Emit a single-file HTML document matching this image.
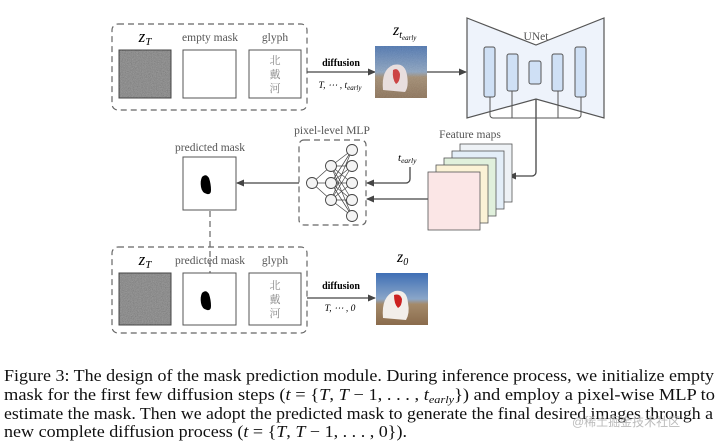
<!DOCTYPE html>
<html><head><meta charset="utf-8"><style>
body{margin:0;background:#fff;width:720px;height:446px;overflow:hidden;position:relative}
svg{position:absolute;left:0;top:0}
.wm{position:absolute;left:572px;top:413px;font:12px "Liberation Sans","Noto Sans CJK SC",sans-serif;color:#bbb}
</style></head><body>
<svg width="720" height="446" viewBox="0 0 720 446" font-family="Liberation Serif, serif">
<defs>
<filter id="n" x="0" y="0" width="1" height="1"><feTurbulence type="fractalNoise" baseFrequency="1.2" numOctaves="1" seed="3"/><feColorMatrix type="matrix" values="0.33 0.33 0.33 0 0 0.33 0.33 0.33 0 0 0.33 0.33 0.33 0 0 0 0 0 0 1"/><feComponentTransfer><feFuncR type="linear" slope="0.8" intercept="0"/><feFuncG type="linear" slope="0.8" intercept="0"/><feFuncB type="linear" slope="0.8" intercept="0"/></feComponentTransfer></filter>
<marker id="a" markerWidth="8" markerHeight="8" refX="7" refY="4" orient="auto" markerUnits="userSpaceOnUse"><path d="M0,0.5 L8,4 L0,7.5z" fill="#444"/></marker>
<linearGradient id="sky" x1="0" y1="0" x2="0" y2="1"><stop offset="0" stop-color="#3f6fb5"/><stop offset="0.5" stop-color="#8aa6c8"/><stop offset="0.6" stop-color="#a48a6a"/><stop offset="1" stop-color="#8a6b4c"/></linearGradient>
</defs>
<g fill="none" stroke="#666" stroke-dasharray="6,4" stroke-width="1.2">
<rect x="112" y="24" width="195" height="86" rx="6"/>
<rect x="112" y="247" width="195" height="86" rx="6"/>
<rect x="299" y="140" width="67" height="85" rx="5"/>
<line x1="210" y1="211" x2="210" y2="290"/>
</g>
<rect x="119" y="50" width="52" height="48" fill="#666"/>
<rect x="119" y="50" width="52" height="48" filter="url(#n)" opacity="0.6"/>
<rect x="119" y="50" width="52" height="48" fill="none" stroke="#444"/>
<rect x="183" y="50" width="53" height="48" fill="#fff" stroke="#555"/>
<rect x="249" y="50" width="52" height="48" fill="#fff" stroke="#555"/>
<g font-family="Liberation Sans, Noto Serif CJK SC, serif" font-size="11" fill="#888" text-anchor="middle"><text x="275" y="64">北</text><text x="275" y="78">戴</text><text x="275" y="92">河</text></g>
<g font-size="11.5" fill="#555" text-anchor="middle"><text x="210" y="41">empty mask</text><text x="275" y="41">glyph</text>
<text x="210" y="264">predicted mask</text><text x="275" y="264">glyph</text>
<text x="210" y="151">predicted mask</text><text x="332" y="134">pixel-level MLP</text><text x="470" y="138">Feature maps</text><text x="536" y="40">UNet</text></g>
<text x="145" y="42" font-size="17" font-style="italic" text-anchor="middle">z<tspan font-size="11" dy="3">T</tspan></text>
<text x="145" y="265" font-size="17" font-style="italic" text-anchor="middle">z<tspan font-size="11" dy="3">T</tspan></text>
<text x="393" y="35" font-size="16" font-style="italic">z<tspan font-size="10" dy="3">t</tspan><tspan font-size="7" dy="2">early</tspan></text>
<text x="397" y="262" font-size="16" font-style="italic">z<tspan font-size="10" dy="3">0</tspan></text>
<g font-size="10" text-anchor="middle"><text x="341" y="66" font-weight="bold">diffusion</text><text x="341" y="289" font-weight="bold">diffusion</text>
<text x="340" y="88" font-style="italic" font-size="9.5">T, ⋯ , t<tspan font-size="7" dy="2">early</tspan></text>
<text x="340" y="311" font-style="italic" font-size="9.5">T, ⋯ , 0</text></g>
<g stroke="#444" stroke-width="1.3" fill="none" marker-end="url(#a)">
<line x1="307" y1="72" x2="375" y2="72"/><line x1="427" y1="72" x2="466" y2="72"/>
<line x1="307" y1="298" x2="375" y2="298"/>
<path d="M536,84 V172 a4,4 0 0 1 -4,4 H509"/>
<line x1="428" y1="199" x2="367" y2="199"/>
<path d="M410,167 V179 a4,4 0 0 1 -4,4 H367"/>
<line x1="299" y1="183" x2="237" y2="183"/>
</g>
<rect x="375" y="46" width="52" height="52" fill="url(#sky)"/>
<rect x="375" y="46" width="52" height="52" filter="url(#n)" opacity="0.25"/>
<path d="M383,90 q-2,-20 10,-25 q12,-3 14,10 q2,12 -2,17z" fill="#e8dede"/><path d="M393,70 q5,-3 7,4 q0,8 -4,10 q-4,-5 -3,-14z" fill="#c44"/>
<rect x="376" y="273" width="52" height="52" fill="url(#sky)"/>
<path d="M383,318 q-2,-22 12,-27 q12,-2 13,12 q2,10 -2,17z" fill="#f2eeea"/><path d="M394,295 q6,-2 8,4 q0,7 -4,9 q-4,-4 -4,-13z" fill="#c22"/>
<rect x="119" y="273" width="52" height="52" fill="#666"/>
<rect x="119" y="273" width="52" height="52" filter="url(#n)" opacity="0.6"/>
<rect x="119" y="273" width="52" height="52" fill="none" stroke="#444"/>
<rect x="183" y="273" width="53" height="52" fill="#fff" stroke="#555"/>
<rect x="249" y="273" width="52" height="52" fill="#fff" stroke="#555"/>
<g font-family="Liberation Sans, Noto Serif CJK SC, serif" font-size="11" fill="#888" text-anchor="middle"><text x="275" y="289">北</text><text x="275" y="303">戴</text><text x="275" y="317">河</text></g>
<path d="M202,293 q4,-4 7,1 q2,6 2,12 q0,5 -4,4 q-5,-1 -6,-7 q-1,-6 1,-10z" fill="#000"/>
<rect x="183" y="157" width="53" height="53" fill="#fff" stroke="#555"/>
<path d="M202,177 q4,-4 7,1 q2,6 2,12 q0,5 -4,4 q-5,-1 -6,-7 q-1,-6 1,-10z" fill="#000"/>
<path d="M467,18 L536,45 L604,18 V118 L536,99 L467,118z" fill="#eef3fb" stroke="#555" stroke-width="1.2"/>
<g fill="#cfe0f5" stroke="#555"><rect x="484" y="47" width="11" height="50" rx="2"/><rect x="507" y="54" width="11" height="37" rx="2"/><rect x="529" y="61" width="12" height="23" rx="2"/><rect x="552" y="54" width="11" height="37" rx="2"/><rect x="575" y="47" width="11" height="50" rx="2"/></g>
<g fill="none" stroke="#555"><path d="M490,97 V115 a3,3 0 0 0 3,3 H578 a3,3 0 0 0 3,-3 V97"/><path d="M512,91 V118 M558,91 V118"/></g>
<g stroke="#555" stroke-width="0.8"><rect x="460" y="144" width="52" height="58" fill="#eef2f6"/><rect x="452" y="151" width="52" height="58" fill="#e3eef8"/><rect x="444" y="158" width="52" height="58" fill="#e0f0dc"/><rect x="436" y="165" width="52" height="58" fill="#fbf2d6"/><rect x="428" y="172" width="52" height="58" fill="#fbe6e6"/></g>
<text x="398" y="161" font-size="11" font-style="italic">t<tspan font-size="7.5" dy="2">early</tspan></text>
<g stroke="#444" stroke-width="0.7">
<path d="M312,183 L331,166 M312,183 L331,183 M312,183 L331,200"/>
<path d="M331,166 L352,150 M331,166 L352,166 M331,166 L352,183 M331,166 L352,200 M331,166 L352,216 M331,183 L352,150 M331,183 L352,166 M331,183 L352,183 M331,183 L352,200 M331,183 L352,216 M331,200 L352,150 M331,200 L352,166 M331,200 L352,183 M331,200 L352,200 M331,200 L352,216"/>
</g>
<g fill="#f4f4f4" stroke="#444" stroke-width="0.9"><circle cx="312" cy="183" r="5.5"/><circle cx="331" cy="166" r="5.5"/><circle cx="331" cy="183" r="5.5"/><circle cx="331" cy="200" r="5.5"/><circle cx="352" cy="150" r="5.5"/><circle cx="352" cy="166" r="5.5"/><circle cx="352" cy="183" r="5.5"/><circle cx="352" cy="200" r="5.5"/><circle cx="352" cy="216" r="5.5"/></g>
<g font-size="16.5" fill="#111">
<text x="4" y="381" textLength="710" lengthAdjust="spacingAndGlyphs">Figure 3: The design of the mask prediction module. During inference process, we initialize empty</text>
<text x="4" y="400" textLength="711" lengthAdjust="spacingAndGlyphs">mask for the first few diffusion steps (<tspan font-style="italic">t</tspan> = {<tspan font-style="italic">T</tspan>, <tspan font-style="italic">T</tspan> − 1, . . . , <tspan font-style="italic">t</tspan><tspan font-size="11" font-style="italic" dy="3">early</tspan><tspan dy="-3">}) and employ a pixel-wise MLP to</tspan></text>
<text x="4" y="419" textLength="709" lengthAdjust="spacingAndGlyphs">estimate the mask. Then we adopt the predicted mask to generate the final desired images through a</text>
<text x="4" y="437" textLength="403" lengthAdjust="spacingAndGlyphs">new complete diffusion process (<tspan font-style="italic">t</tspan> = {<tspan font-style="italic">T</tspan>, <tspan font-style="italic">T</tspan> − 1, . . . , 0}).</text>
</g>
</svg>
<div class="wm">@稀土掘金技术社区</div>
</body></html>
